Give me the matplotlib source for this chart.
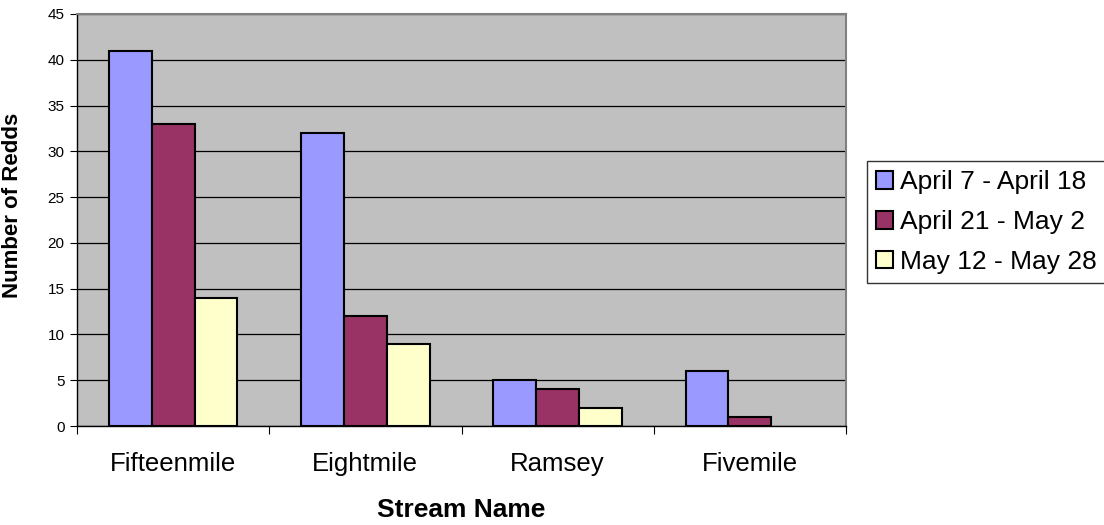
import matplotlib
matplotlib.use("Agg")
import matplotlib.pyplot as plt
import numpy as np
from matplotlib.patches import Patch

plt.rcParams['font.family'] = ['Liberation Sans', 'DejaVu Sans']

categories = ["Fifteenmile", "Eightmile", "Ramsey", "Fivemile"]
series_names = ["April 7 - April 18", "April 21 - May 2", "May 12 - May 28"]
april7 = [41, 32, 5, 6]
april21 = [33, 12, 4, 1]
may12 = [14, 9, 2, 0]
colors = ["#9999FF", "#993366", "#FFFFCC"]

fig = plt.figure(figsize=(11.04, 5.25), dpi=100)
L, R, T, B = 77, 846, 14, 426
ax = fig.add_axes([L/1104, 1-B/525, (R-L)/1104, (B-T)/525])
ax.set_facecolor("#C0C0C0")

x = np.arange(len(categories))
w = 0.223
for i, (vals, c) in enumerate(zip([april7, april21, may12], colors)):
    v = np.array(vals, dtype=float)
    mask = v > 0
    ax.bar(x[mask] + (i-1)*w, v[mask], width=w, color=c, edgecolor="black", linewidth=1.5, zorder=3)

ax.set_xlim(-0.5, 3.5)
ax.set_ylim(0, 45)
ax.set_yticks(range(0, 46, 5))
ax.yaxis.grid(True, color="black", linewidth=0.9, zorder=1)
ax.set_axisbelow(True)
ax.tick_params(axis='y', labelsize=11, length=5, direction='out', color="black", pad=4)
ax.set_xticks(np.arange(-0.5, 4, 1))
ax.set_xticklabels([])
ax.set_xticks(x, minor=True)
ax.set_xticklabels(categories, minor=True, fontsize=18.5)
ax.tick_params(axis='x', which='major', length=6, direction='out')
ax.tick_params(axis='x', which='minor', length=0, pad=18.5)

for s in ["top", "right"]:
    ax.spines[s].set_color("#808080")
    ax.spines[s].set_linewidth(1.5)
for s in ["left", "bottom"]:
    ax.spines[s].set_color("black")
    ax.spines[s].set_linewidth(1.0)

ax.set_ylabel("Number of Redds", fontsize=16, fontweight="bold")
ax.yaxis.set_label_coords(-(77-23)/(R-L), (B-205)/(B-T))
ax.set_xlabel("Stream Name", fontsize=19, fontweight="bold", labelpad=16)

handles = [Patch(facecolor=c, edgecolor="black", linewidth=1.5) for c in colors]
leg = fig.legend(handles, series_names, loc="upper left", bbox_to_anchor=(867/1104, 1-161/525),
                 fontsize=19, frameon=True, fancybox=False, edgecolor="black",
                 handlelength=0.65, handleheight=0.65, handletextpad=0.25, borderpad=0.35,
                 labelspacing=0.6, borderaxespad=0)
leg.get_frame().set_linewidth(1.0)

fig.savefig("out.png", dpi=100, facecolor="white")
